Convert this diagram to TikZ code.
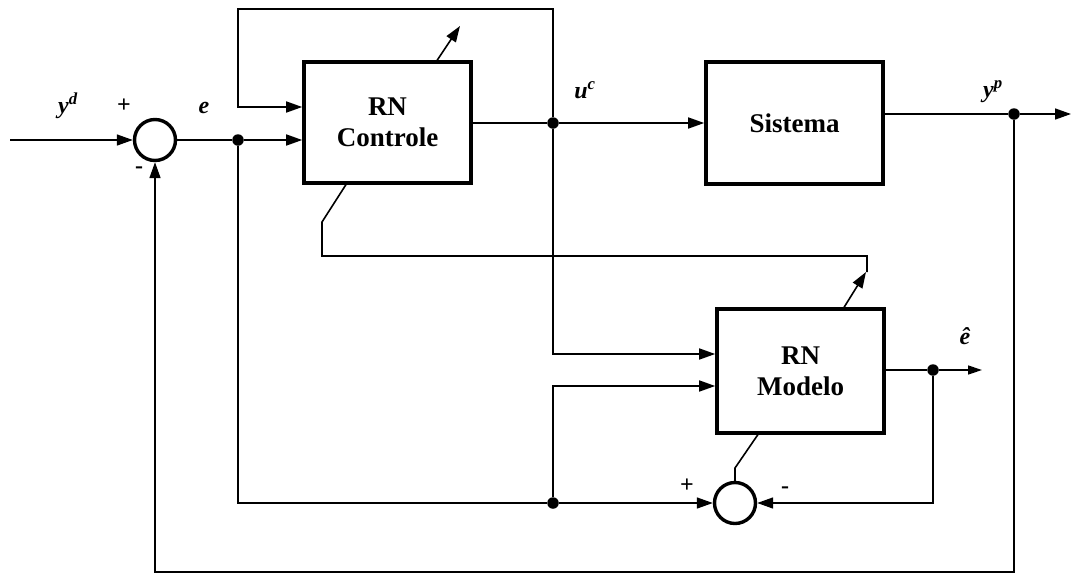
\documentclass[tikz,border=0pt]{standalone}
\usepackage{fontspec}
\setmainfont{Liberation Serif}
\usetikzlibrary{arrows.meta}
\begin{document}
\begin{tikzpicture}[x=1pt,y=-1pt,
  wire/.style={line width=1.6pt},
  arr/.style={line width=1.6pt,-{Triangle[length=16pt,width=11pt]}},
  blk/.style={draw,line width=3.6pt,align=center,inner sep=0pt,
    font=\fontsize{27}{31}\selectfont\bfseries},
  sumc/.style={circle,draw,line width=3.4pt,minimum size=41pt,inner sep=0pt},
  dotn/.style={circle,fill,minimum size=11.5pt,inner sep=0pt},
  lbl/.style={font=\fontsize{24}{26}\selectfont\bfseries\itshape,inner sep=0pt},
  sgn/.style={font=\fontsize{24}{26}\selectfont\bfseries,inner sep=0pt}]
\useasboundingbox (0,0) rectangle (1071,574);

% blocks
\node[blk,minimum width=167pt,minimum height=121pt] (ctrl) at (387.5,122.5) {RN\\Controle};
\node[blk,minimum width=177pt,minimum height=122pt] (sys) at (794.5,123) {Sistema};
\node[blk,minimum width=167pt,minimum height=124pt] (mod) at (800.5,371) {RN\\Modelo};
\node[sumc] (s1) at (155,140) {};
\node[sumc] (s2) at (735,503) {};

% junction dots
\node[dotn] (dE) at (238,140) {};
\node[dotn] (dU) at (553,123) {};
\node[dotn] (dY) at (1014,114) {};
\node[dotn] (dH) at (933,370) {};
\node[dotn] (dB) at (553,503) {};

% helper coordinates
\coordinate (in) at (10,140);
\coordinate (out) at (1071,114);
\coordinate (hout) at (982,370);
\coordinate (tr) at (553,9);
\coordinate (tl) at (238,9);
\coordinate (tl2) at (238,107);
\coordinate (eb) at (238,503);
\coordinate (yb) at (1014,572);
\coordinate (sb) at (155,572);
\coordinate (mi1) at (553,354);
\coordinate (mi2) at (553,386);
\coordinate (hb) at (933,503);
\coordinate (ca1) at (436,62);
\coordinate (ca2) at (460,26);
\coordinate (cb1) at (347,183);
\coordinate (cb2) at (322,222);
\coordinate (cb3) at (322,256);
\coordinate (cb4) at (867,256);
\coordinate (cb5) at (867,272);
\coordinate (ma1) at (843,309);
\coordinate (ma2) at (866,272);
\coordinate (sb1) at (735,468);
\coordinate (sb2) at (759,433);

% main path
\draw[arr] (in) -- (s1);
\draw[wire] (s1) -- (dE);
\draw[arr] (dE) -- (ctrl.west |- dE);
\draw[wire] (ctrl.east |- dU) -- (dU);
\draw[arr] (dU) -- (sys.west |- dU);
\draw[wire] (sys.east |- dY) -- (dY);
\draw[arr] (dY) -- (out);

% top loop
\draw[arr] (dU) -- (tr) -- (tl) -- (tl2) -- (ctrl.west |- tl2);

% adjustment arrows
\draw[arr] (ca1) -- (ca2);
\draw[wire] (cb1) -- (cb2) -- (cb3) -- (cb4) -- (cb5);
\draw[arr] (ma1) -- (ma2);

% model inputs
\draw[arr] (dU) -- (mi1) -- (mod.west |- mi1);
\draw[arr] (dB) -- (mi2) -- (mod.west |- mi2);

% model output
\draw[wire] (mod.east |- dH) -- (dH);
\draw[line width=1.4pt,-{Triangle[length=14pt,width=9pt]}] (dH) -- (hout);
\draw[arr] (dH) -- (hb) -- (s2);

% error line to second summing junction
\draw[wire] (dE) -- (eb) -- (dB);
\draw[arr] (dB) -- (s2);
\draw[wire] (s2.north) -- (sb1) -- (sb2);

% outer feedback
\draw[arr] (dY) -- (yb) -- (sb) -- (s1);

% labels
\node[lbl] (lyd) at (68,106) {y\textsuperscript{d}};
\node[sgn] (p1) at (124,106) {+};
\node[sgn] (m1) at (139,170) {-};
\node[lbl] (le) at (204,108) {e};
\node[lbl] (luc) at (585,90) {u\textsuperscript{c}};
\node[lbl] (lyp) at (993,92) {y\textsuperscript{p}};
\node[lbl] (leh) at (965,336) {ê};
\node[sgn] (p2) at (687,486) {+};
\node[sgn] (m2) at (785,490) {-};
\end{tikzpicture}
\end{document}
